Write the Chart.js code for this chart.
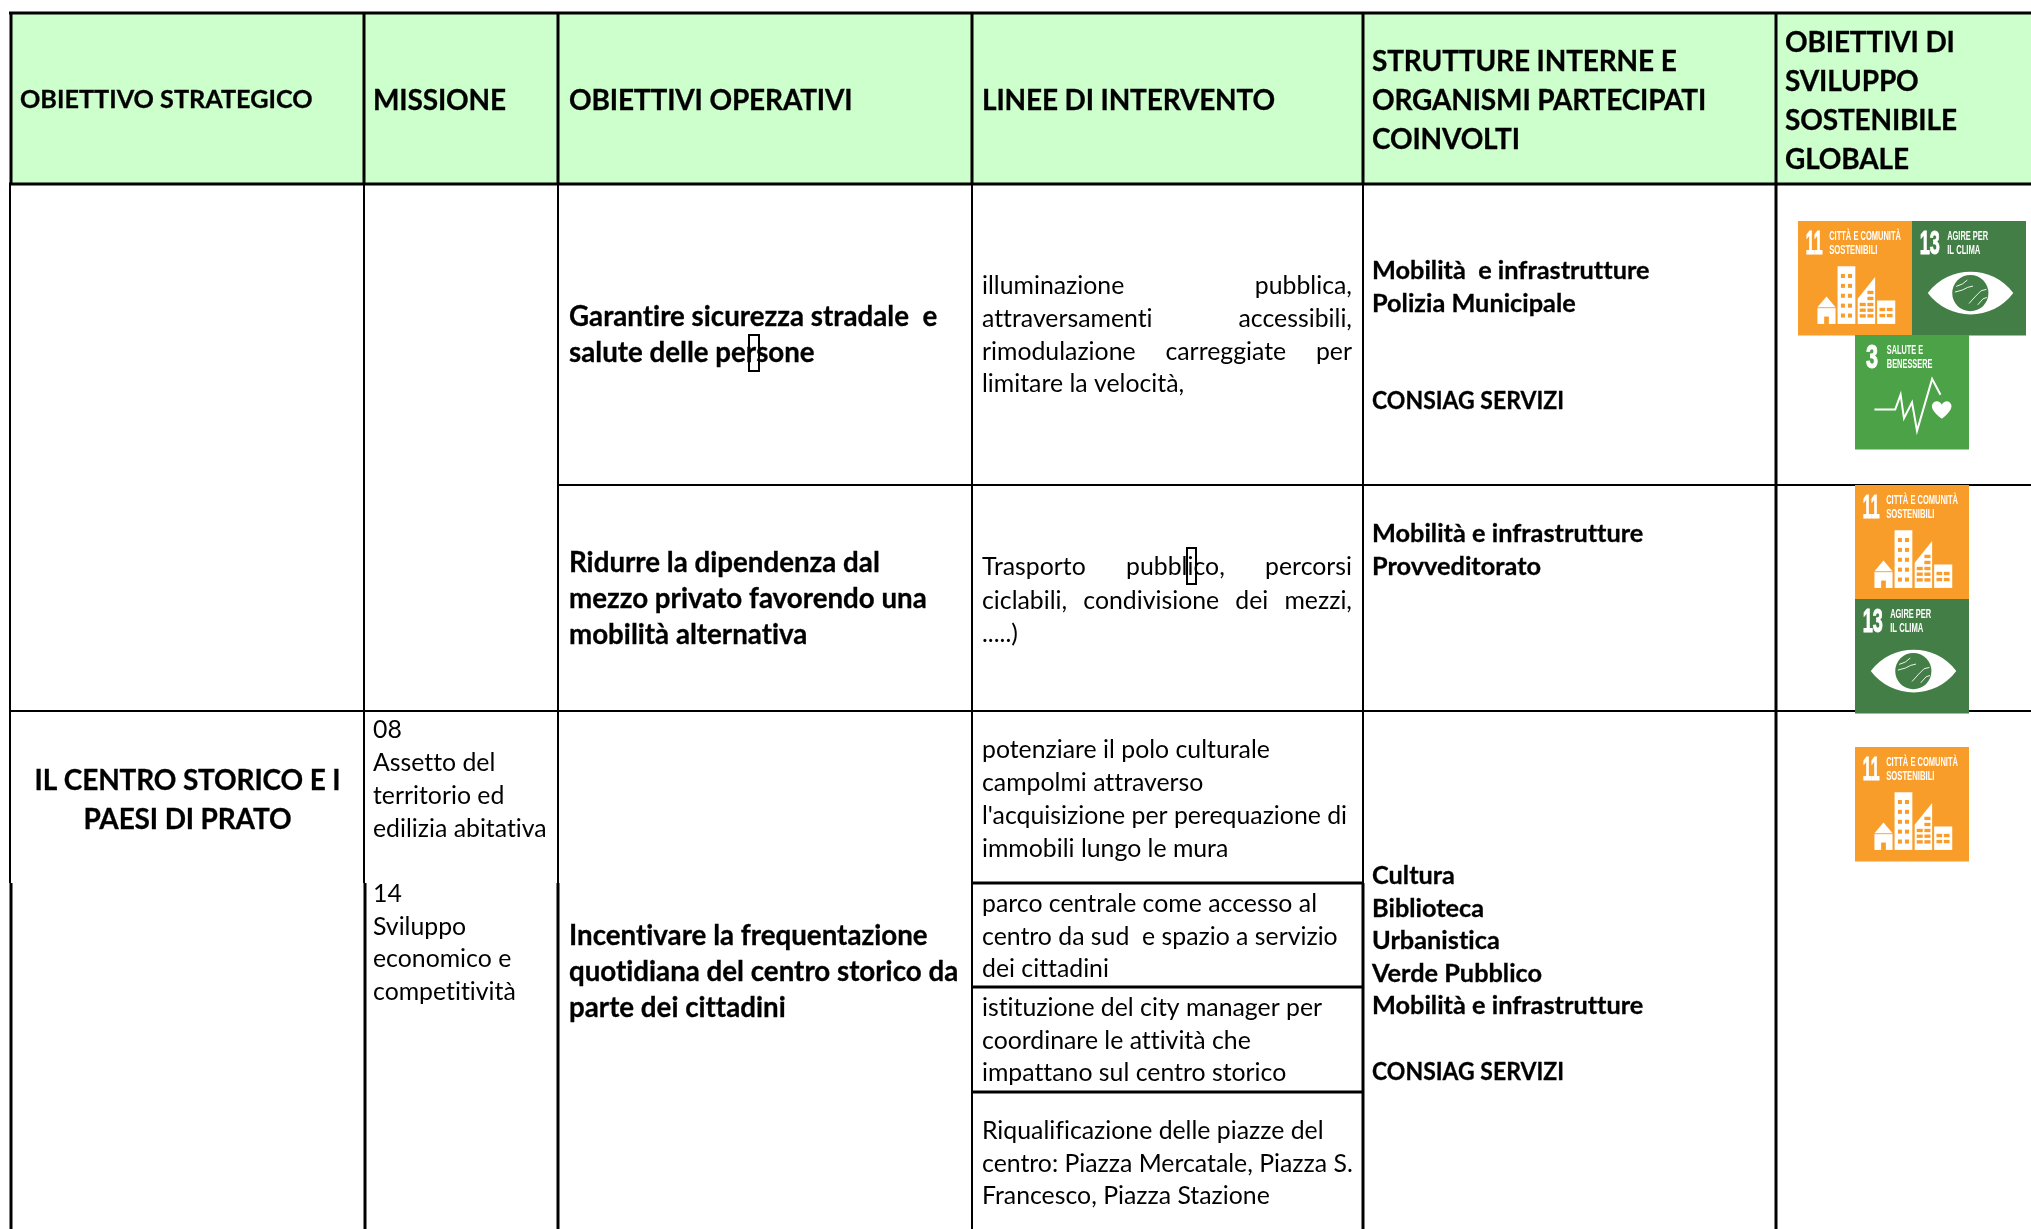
<!DOCTYPE html>
<html lang="it">
<head>
<meta charset="utf-8">
<title>Obiettivi strategici</title>
<script src="https://cdn.jsdelivr.net/npm/chart.js@4"></script>
<style>
  body { margin: 0; background: #fff; }
  canvas { display: block; }
</style>
</head>
<body>
<canvas id="tabella" width="2031" height="1229"></canvas>
<script>
// table text, one list per column
const headers = [
  ["OBIETTIVO STRATEGICO"],
  ["MISSIONE"],
  ["OBIETTIVI OPERATIVI"],
  ["LINEE DI INTERVENTO"],
  ["STRUTTURE INTERNE E", "ORGANISMI PARTECIPATI", "COINVOLTI"],
  ["OBIETTIVI DI", "SVILUPPO", "SOSTENIBILE", "GLOBALE"],
];
const strategico = ["IL CENTRO STORICO E I", "PAESI DI PRATO"];
const missione = [
  "08", "Assetto del", "territorio ed", "edilizia abitativa", "",
  "14", "Sviluppo", "economico e", "competitività",
];
const operativi = [
  ["Garantire sicurezza stradale  e", "salute delle persone"],
  ["Ridurre la dipendenza dal", "mezzo privato favorendo una", "mobilità alternativa"],
  ["Incentivare la frequentazione", "quotidiana del centro storico da", "parte dei cittadini"],
];
const interventi = [
  ["illuminazione pubblica,", "attraversamenti accessibili,", "rimodulazione carreggiate per", "limitare la velocità,"],
  ["Trasporto pubblico, percorsi", "ciclabili, condivisione dei mezzi,", ".....)"],
  ["potenziare il polo culturale", "campolmi attraverso", "l'acquisizione per perequazione di", "immobili lungo le mura"],
  ["parco centrale come accesso al", "centro da sud  e spazio a servizio", "dei cittadini"],
  ["istituzione del city manager per", "coordinare le attività che", "impattano sul centro storico"],
  ["Riqualificazione delle piazze del", "centro: Piazza Mercatale, Piazza S.", "Francesco, Piazza Stazione"],
];
const strutture = [
  ["Mobilità  e infrastrutture", "Polizia Municipale", "", "", "CONSIAG SERVIZI"],
  ["Mobilità e infrastrutture", "Provveditorato"],
  ["Cultura", "Biblioteca", "Urbanistica", "Verde Pubblico", "Mobilità e infrastrutture", "", "CONSIAG SERVIZI"],
];
const goals = {
  11: ["CITTÀ E COMUNITÀ", "SOSTENIBILI"],
  13: ["AGIRE PER", "IL CLIMA"],
  3: ["SALUTE E", "BENESSERE"],
};

// table geometry, in the units of the hidden x and y scales
const columnEdges = [11, 364, 558, 972, 1363, 1776, 2031];
const rowEdges = [13, 184, 485, 711, 883, 987, 1092, 1229];
const textLeft = [20, 373, 569, 982, 1372, 1785];
const justifyRight = 1352;
const tileSize = 114;
const tiles = [
  [11, 1798, 221], [13, 1912, 221], [3, 1855, 335],
  [11, 1855, 485], [13, 1855, 599],
  [11, 1855, 747],
];
const cursorBoxes = [[749, 335, 10, 36], [1187, 548, 9, 36]];

const [c0, c1, c2, c3, c4, c5, c6] = columnEdges;
const [r0, r1, r2, r3, r4, r5, r6, r7] = rowEdges;
// [x0, y0, x1, y1, width]
const rules = [
  [c0 - 2, r0, c6, r0, 3], [c0 - 2, r1, c6, r1, 3],
  [c2, r2, c6, r2, 2], [c0, r3, c6, r3, 2],
  [c3, r4, c4, r4, 3], [c3, r5, c4, r5, 3], [c3, r6, c4, r6, 3],
  [c0, r0, c0, r1, 3], [c1, r0, c1, r1, 3], [c2, r0, c2, r1, 3],
  [c3, r0, c3, r1, 3], [c4, r0, c4, r1, 3], [c5, r0, c5, r1, 3],
  [c0 - 1, r1, c0 - 1, r4, 2], [c1, r1, c1, r4, 2], [c2, r1, c2, r4, 2],
  [c3, r1, c3, r7, 2], [c4, r1, c4, r4, 2], [c5, r1, c5, r7, 3],
  [c0, r4, c0, r7, 3], [c1 + 1, r4, c1 + 1, r7, 3], [c2, r4, c2, r7, 3], [c4, r4, c4, r7, 3],
];

const FONT = "Lato, 'Open Sans', sans-serif";
const HEAD = { font: `bold 28px ${FONT}`, spacing: "-0.15px", stroke: 0.3 };
const HEAD_SMALL = { font: `bold 25.2px ${FONT}`, spacing: "0.01px", stroke: 0.3 };
const BOLD = { font: `bold 27.7px ${FONT}`, spacing: "0.01px", stroke: 0.3 };
const SMALL_BOLD = { font: `bold 25.3px ${FONT}`, spacing: "0.01px", stroke: 0.3 };
const BODY = { font: `24.8px ${FONT}`, spacing: "0.01px", stroke: 0 };

const setStyle = (ctx, style, align = "left") => {
  ctx.font = style.font;
  // any spacing at all switches off the tt and ti ligatures of Lato
  ctx.letterSpacing = style.spacing;
  ctx.lineWidth = style.stroke;
  ctx.textAlign = align;
};

const put = (ctx, style, text, x, y, maxWidth) => {
  ctx.fillText(text, x, y, maxWidth);
  if (style.stroke) ctx.strokeText(text, x, y, maxWidth);
};

const drawLines = (ctx, lines, x, baselines, style, align = "left") => {
  setStyle(ctx, style, align);
  lines.forEach((line, i) => {
    if (!line) return;
    // the capitals of the reference are narrower than those of Lato
    put(ctx, style, line, x, baselines[i], line === "CONSIAG SERVIZI" ? 192 : undefined);
  });
};

// spreads the words so the line reaches the right edge of the cell
const drawJustified = (ctx, line, left, right, y) => {
  const words = line.trim().split(/\s+/);
  const used = words.reduce((sum, w) => sum + ctx.measureText(w).width, 0);
  const gap = (right - left - used) / (words.length - 1);
  let x = left;
  words.forEach((w) => {
    ctx.fillText(w, x, y);
    x += ctx.measureText(w).width + gap;
  });
};

const drawIcon = (ctx, kind, x, y, size, colour) => {
  // icon shapes are in 340ths of a tile
  const u = size / 340;
  const px = (v) => x + v * u;
  const py = (v) => y + v * u;
  const box = (a, b, w, h) => ctx.fillRect(px(a), py(b), w * u, h * u);
  const path = (points) => {
    ctx.beginPath();
    points.forEach((p, i) => (i ? ctx.lineTo(px(p[0]), py(p[1])) : ctx.moveTo(px(p[0]), py(p[1]))));
  };
  ctx.fillStyle = "#fff";
  ctx.strokeStyle = "#fff";
  if (kind === 11) {
    path([[58, 257], [85, 225], [112, 257]]);
    ctx.fill();
    box(58, 260, 54, 47);
    box(118, 135, 53, 172);
    path([[178, 307], [178, 232], [230, 167], [230, 307]]);
    ctx.fill();
    box(236, 237, 54, 70);
    ctx.fillStyle = colour;
    box(78, 285, 14, 22);
    for (let r = 0; r < 5; r++) {
      box(128, 158 + r * 29.5, 12, 12);
      box(149, 158 + r * 29.5, 12, 12);
    }
    for (let r = 0; r < 3; r++) {
      box(184, 244 + r * 17, 18, 10);
      box(207, 244 + r * 17, 18, 10);
    }
    box(207, 226, 18, 10);
    box(207, 208, 18, 10);
    box(243, 259, 17, 10);
    box(265, 259, 17, 10);
    box(243, 277, 17, 10);
    box(265, 277, 17, 10);
  } else if (kind === 13) {
    const cy = 215;
    ctx.beginPath();
    ctx.moveTo(px(47), py(cy));
    ctx.bezierCurveTo(px(110), py(cy - 85), px(240), py(cy - 85), px(302), py(cy));
    ctx.bezierCurveTo(px(240), py(cy + 85), px(110), py(cy + 85), px(47), py(cy));
    ctx.fill();
    ctx.fillStyle = colour;
    ctx.beginPath();
    ctx.arc(px(174), py(cy), 54 * u, 0, Math.PI * 2);
    ctx.fill();
    // coastlines on the globe
    ctx.lineWidth = 0.9;
    [
      [[132, 195], [150, 188], [165, 176]],
      [[128, 212], [150, 206], [166, 198], [182, 194]],
      [[170, 246], [190, 224], [206, 208], [222, 204]],
      [[196, 250], [212, 232], [224, 228]],
    ].forEach((p) => {
      path(p);
      ctx.stroke();
    });
  } else {
    ctx.lineWidth = 2;
    ctx.lineJoin = "miter";
    path([[58, 222], [120, 222], [136, 178], [146, 248], [170, 201], [185, 286], [230, 131], [255, 178]]);
    ctx.stroke();
    // heart
    ctx.beginPath();
    ctx.moveTo(px(259), py(250));
    ctx.bezierCurveTo(px(230), py(228), px(225), py(212), px(232), py(204));
    ctx.bezierCurveTo(px(240), py(193), px(254), py(197), px(259), py(208));
    ctx.bezierCurveTo(px(264), py(197), px(278), py(193), px(285), py(204));
    ctx.bezierCurveTo(px(292), py(212), px(287), py(228), px(259), py(250));
    ctx.fill();
  }
};

const drawTile = (ctx, xScale, yScale, [goal, gx, gy]) => {
  const x = xScale.getPixelForValue(gx);
  const y = yScale.getPixelForValue(gy);
  const size = xScale.getPixelForValue(gx + tileSize) - x;
  const colour = { 11: "#F99D2A", 13: "#437E46", 3: "#4CA247" }[goal];
  ctx.fillStyle = colour;
  ctx.fillRect(x, y, size, size + 0.5);
  ctx.fillStyle = "#fff";
  ctx.strokeStyle = "#fff";
  ctx.textAlign = "left";
  ctx.letterSpacing = "0px";
  const u = size / 340;
  const numWidth = { 11: 50, 13: 60, 3: 36 }[goal];
  const labelX = { 11: 93, 13: 105, 3: 95 }[goal];
  const labelWidths = { 11: [214, 144], 13: [122, 99], 3: [108, 136] }[goal];
  ctx.font = `bold ${Math.round(72 * u * 1.35)}px 'Liberation Sans', sans-serif`;
  ctx.lineWidth = 1;
  ctx.fillText(String(goal), x + (goal === 3 ? 33 : 23) * u, y + 98 * u, numWidth * u);
  ctx.strokeText(String(goal), x + (goal === 3 ? 33 : 23) * u, y + 98 * u, numWidth * u);
  ctx.font = `bold ${Math.round(30 * u * 1.25)}px 'Liberation Sans', sans-serif`;
  goals[goal].forEach((label, i) => {
    ctx.fillText(label, x + labelX * u, y + (56 + i * 41) * u, labelWidths[i] * u);
  });
  drawIcon(ctx, goal, x, y, size, colour);
};

const tablePlugin = {
  id: "tablePlugin",
  beforeDatasetsDraw(chart) {
    const { ctx, scales: { x, y } } = chart;
    ctx.save();
    ctx.fillStyle = "#CCFFCC";
    ctx.fillRect(x.getPixelForValue(c0), y.getPixelForValue(r0),
      x.getPixelForValue(c6) - x.getPixelForValue(c0), y.getPixelForValue(r1) - y.getPixelForValue(r0));
    ctx.restore();
  },
  afterDatasetsDraw(chart) {
    const { ctx, scales: { x, y } } = chart;
    const px = (v) => x.getPixelForValue(v);
    const py = (v) => y.getPixelForValue(v);
    const rows = (list) => list.map(py);
    ctx.save();
    ctx.fillStyle = "#000";
    ctx.strokeStyle = "#000";
    ctx.textBaseline = "alphabetic";

    drawLines(ctx, headers[0], px(textLeft[0]), rows([108]), HEAD_SMALL);
    drawLines(ctx, headers[1], px(textLeft[1]), rows([110]), HEAD);
    drawLines(ctx, headers[2], px(textLeft[2]), rows([110]), HEAD);
    drawLines(ctx, headers[3], px(textLeft[3]), rows([110]), HEAD);
    drawLines(ctx, headers[4], px(textLeft[4]), rows([71, 110, 149]), HEAD);
    drawLines(ctx, headers[5], px(textLeft[5]), rows([52, 91, 130, 169]), HEAD);

    drawLines(ctx, strategico, px((c0 + c1) / 2), rows([790, 829]), HEAD, "center");
    drawLines(ctx, missione, px(textLeft[1]),
      rows([738, 771, 804, 837, 870, 902, 935, 967, 1000]), BODY);

    drawLines(ctx, operativi[0], px(textLeft[2]), rows([326, 362]), BOLD);
    drawLines(ctx, operativi[1], px(textLeft[2]), rows([572, 608, 644]), BOLD);
    drawLines(ctx, operativi[2], px(textLeft[2]), rows([945, 981, 1017]), BOLD);

    setStyle(ctx, BODY);
    const justify = (lines, baselines) => lines.forEach((line, i) =>
      i < lines.length - 1
        ? drawJustified(ctx, line, px(textLeft[3]), px(justifyRight), py(baselines[i]))
        : ctx.fillText(line, px(textLeft[3]), py(baselines[i])));
    justify(interventi[0], [294, 327, 360, 392]);
    justify(interventi[1], [575, 609, 642]);
    drawLines(ctx, interventi[2], px(textLeft[3]), rows([758, 791, 824, 857]), BODY);
    drawLines(ctx, interventi[3], px(textLeft[3]), rows([912, 945, 977]), BODY);
    drawLines(ctx, interventi[4], px(textLeft[3]), rows([1016, 1049, 1081]), BODY);
    drawLines(ctx, interventi[5], px(textLeft[3]), rows([1139, 1172, 1204]), BODY);

    drawLines(ctx, strutture[0], px(textLeft[4]), rows([279, 312, 345, 378, 409]), SMALL_BOLD);
    drawLines(ctx, strutture[1], px(textLeft[4]), rows([542, 575]), SMALL_BOLD);
    drawLines(ctx, strutture[2], px(textLeft[4]), rows([884, 917, 949, 982, 1014, 1047, 1080]), SMALL_BOLD);

    tiles.forEach((t) => drawTile(ctx, x, y, t));

    ctx.strokeStyle = "#000";
    ctx.lineWidth = 2;
    cursorBoxes.forEach(([bx, by, w, h]) => ctx.strokeRect(px(bx), py(by), w, h));
    ctx.restore();
  },
};

new Chart(document.getElementById("tabella"), {
  type: "line",
  data: {
    datasets: rules.map(([x0, y0, x1, y1, width]) => ({
      data: [{ x: x0, y: y0 }, { x: x1, y: y1 }],
      borderColor: "#000",
      borderWidth: width,
      pointRadius: 0,
      clip: false,
    })),
  },
  options: {
    responsive: false,
    animation: false,
    layout: { padding: 0 },
    events: [],
    scales: {
      x: { type: "linear", min: 0, max: 2031, display: false },
      y: { type: "linear", min: 0, max: 1229, reverse: true, display: false },
    },
    plugins: { legend: { display: false }, tooltip: { enabled: false } },
  },
  plugins: [tablePlugin],
});
</script>
</body>
</html>
